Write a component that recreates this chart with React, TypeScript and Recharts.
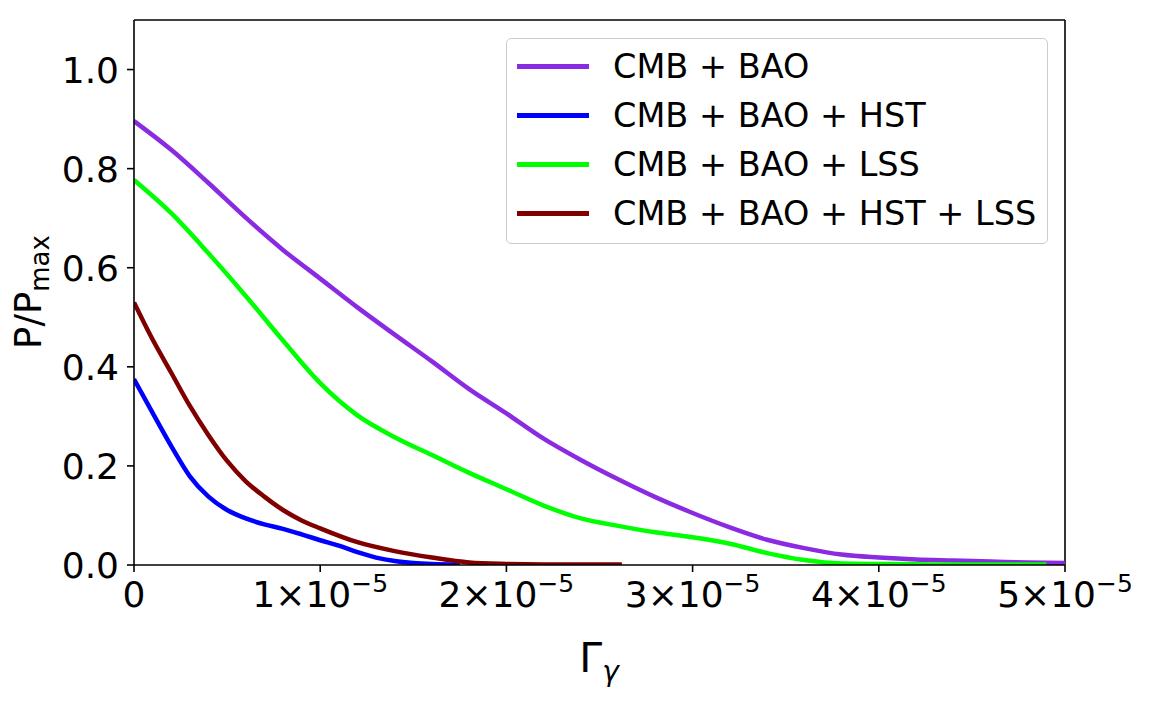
import React from 'react';
import { LineChart, Line, XAxis, YAxis, ReferenceLine, Legend, Label } from 'recharts';

const FONT = '"DejaVu Sans", sans-serif';

const seriesNames = ['CMB + BAO', 'CMB + BAO + HST', 'CMB + BAO + LSS', 'CMB + BAO + HST + LSS'];
const seriesColors = ['#8a2be2', '#0000ff', '#00ff00', '#800000'];

// CMB + BAO
const gammaBao = [0, 2e-6, 4e-6, 6e-6, 8e-6, 10e-6, 12e-6, 14e-6, 16e-6, 18e-6, 20e-6, 22e-6, 24e-6, 26e-6, 28e-6, 30e-6, 32e-6, 34e-6, 36e-6, 38e-6, 40e-6, 42e-6, 44e-6, 46e-6, 48e-6, 50e-6];
const pBao = [0.896, 0.838, 0.771, 0.701, 0.636, 0.578, 0.52, 0.465, 0.411, 0.355, 0.306, 0.255, 0.212, 0.173, 0.137, 0.105, 0.076, 0.051, 0.034, 0.021, 0.015, 0.011, 0.009, 0.007, 0.005, 0.004];

// CMB + BAO + HST
const gammaHst = [0, 1e-6, 2e-6, 3e-6, 4e-6, 5e-6, 6e-6, 7e-6, 8e-6, 9e-6, 10e-6, 11e-6, 12e-6, 13e-6, 14e-6, 15e-6, 16e-6, 17.5e-6];
const pHst = [0.375, 0.307, 0.24, 0.179, 0.138, 0.111, 0.094, 0.082, 0.073, 0.062, 0.05, 0.039, 0.026, 0.015, 0.008, 0.004, 0.002, 0.001];

// CMB + BAO + LSS
const gammaLss = [0, 2e-6, 4e-6, 6e-6, 8e-6, 10e-6, 12e-6, 14e-6, 16e-6, 18e-6, 20e-6, 22e-6, 24e-6, 26e-6, 28e-6, 30e-6, 32e-6, 34e-6, 36e-6, 38e-6, 40e-6, 42e-6, 44e-6, 46e-6, 49e-6];
const pLss = [0.777, 0.71, 0.629, 0.543, 0.453, 0.367, 0.302, 0.258, 0.222, 0.186, 0.153, 0.12, 0.094, 0.079, 0.066, 0.056, 0.043, 0.024, 0.01, 0.003, 0.002, 0.0015, 0.001, 0.001, 0.001];

// CMB + BAO + HST + LSS
const gammaHstLss = [0, 1e-6, 2e-6, 3e-6, 4e-6, 5e-6, 6e-6, 7e-6, 8e-6, 9e-6, 10e-6, 12e-6, 14e-6, 16e-6, 18e-6, 20e-6, 22e-6, 26.2e-6];
const pHstLss = [0.53, 0.455, 0.388, 0.321, 0.262, 0.21, 0.169, 0.138, 0.111, 0.09, 0.074, 0.046, 0.028, 0.015, 0.005, 0.002, 0.001, 0.001];

const xTicks = [0, 1e-5, 2e-5, 3e-5, 4e-5, 5e-5];
const xTickMantissas = ['0', '1', '2', '3', '4', '5'];
const xTickExponent = '−5';
const yTicks = [0, 0.2, 0.4, 0.6, 0.8, 1.0];
const yTickLabels = ['0.0', '0.2', '0.4', '0.6', '0.8', '1.0'];

const toRows = (xs: number[], ys: number[]) => xs.map((g, i) => ({ g, p: ys[i] }));

const seriesData = [
  toRows(gammaBao, pBao),
  toRows(gammaHst, pHst),
  toRows(gammaLss, pLss),
  toRows(gammaHstLss, pHstLss),
];

const XTick = (props: any) => {
  const { x, y, payload } = props;
  const idx = xTicks.findIndex((t) => Math.abs(t - payload.value) < 1e-12);
  const m = idx >= 0 ? xTickMantissas[idx] : String(payload.value);
  const base = y + 33;
  if (m === '0') {
    return (
      <text x={x} y={base} textAnchor="middle" fontSize={36} fontFamily={FONT} fill="#000">
        0
      </text>
    );
  }
  return (
    <text x={x} y={base} textAnchor="middle" fontSize={36} fontFamily={FONT} fill="#000">
      {m}×10
      <tspan dy={-15} fontSize={25}>
        {xTickExponent}
      </tspan>
    </text>
  );
};

const YTick = (props: any) => {
  const { x, y, payload } = props;
  const idx = yTicks.findIndex((t) => Math.abs(t - payload.value) < 1e-9);
  const label = idx >= 0 ? yTickLabels[idx] : String(payload.value);
  return (
    <text x={x} y={y + 13} textAnchor="end" fontSize={36} fontFamily={FONT} fill="#000">
      {label}
    </text>
  );
};

const LegendBox = () => (
  <div
    style={{
      position: 'relative',
      width: 542,
      height: 206,
      boxSizing: 'border-box',
      border: '1.5px solid #cccccc',
      borderRadius: 5,
      background: 'rgba(255,255,255,0.8)',
      fontFamily: FONT,
      fontSize: 33.5,
      color: '#000',
    }}
  >
    {seriesNames.map((name, i) => (
      <div key={name} style={{ position: 'absolute', left: 0, top: 3 + i * 49, height: 49, width: '100%' }}>
        <div
          style={{
            position: 'absolute',
            left: 10,
            top: 21.5,
            width: 72,
            height: 5,
            background: seriesColors[i],
          }}
        />
        <div style={{ position: 'absolute', left: 106, top: 0, lineHeight: '49px', whiteSpace: 'nowrap' }}>{name}</div>
      </div>
    ))}
  </div>
);

export default function App() {
  return (
    <div style={{ position: 'absolute', left: 0, top: 0, width: 1152, height: 704, background: '#fff' }}>
      <LineChart width={1152} height={704} margin={{ top: 20, right: 87, bottom: 0, left: 0 }}>
        <XAxis
          dataKey="g"
          type="number"
          domain={[0, 5e-5]}
          ticks={xTicks}
          allowDataOverflow
          height={139}
          tick={<XTick />}
          tickSize={7}
          tickMargin={2}
          axisLine={{ stroke: '#000', strokeWidth: 1.6 }}
          tickLine={{ stroke: '#000', strokeWidth: 1.6 }}
          interval={0}
        >
          <Label
            content={() => (
              <text x={599} y={672} textAnchor="middle" fontFamily={FONT} fill="#000">
                <tspan fontSize={41}>Γ</tspan>
                <tspan fontSize={28} fontStyle="italic" dy={9}>γ</tspan>
              </text>
            )}
          />
        </XAxis>
        <YAxis
          type="number"
          domain={[0, 1.1]}
          ticks={yTicks}
          allowDataOverflow
          width={134}
          tick={<YTick />}
          tickSize={7}
          tickMargin={8}
          axisLine={{ stroke: '#000', strokeWidth: 1.6 }}
          tickLine={{ stroke: '#000', strokeWidth: 1.6 }}
          interval={0}
        >
          <Label
            content={() => (
              <text
                x={41}
                y={292}
                textAnchor="middle"
                fontFamily={FONT}
                fill="#000"
                transform="rotate(-90, 41, 292)"
              >
                <tspan fontSize={37}>P/P</tspan>
                <tspan fontSize={26} dy={8}>max</tspan>
              </text>
            )}
          />
        </YAxis>
        <ReferenceLine y={1.1} stroke="#000" strokeWidth={1.6} ifOverflow="extendDomain" />
        <ReferenceLine x={5e-5} stroke="#000" strokeWidth={1.6} ifOverflow="extendDomain" />
        {seriesData.map((rows, i) => (
          <Line
            key={seriesNames[i]}
            data={rows}
            dataKey="p"
            name={seriesNames[i]}
            type="monotone"
            stroke={seriesColors[i]}
            strokeWidth={4.5}
            dot={false}
            activeDot={false}
            isAnimationActive={false}
          />
        ))}
        <Legend
          layout="vertical"
          align="center"
          verticalAlign="middle"
          wrapperStyle={{ left: 506, top: 38, width: 542, height: 206 }}
          content={() => <LegendBox />}
        />
      </LineChart>
    </div>
  );
}
